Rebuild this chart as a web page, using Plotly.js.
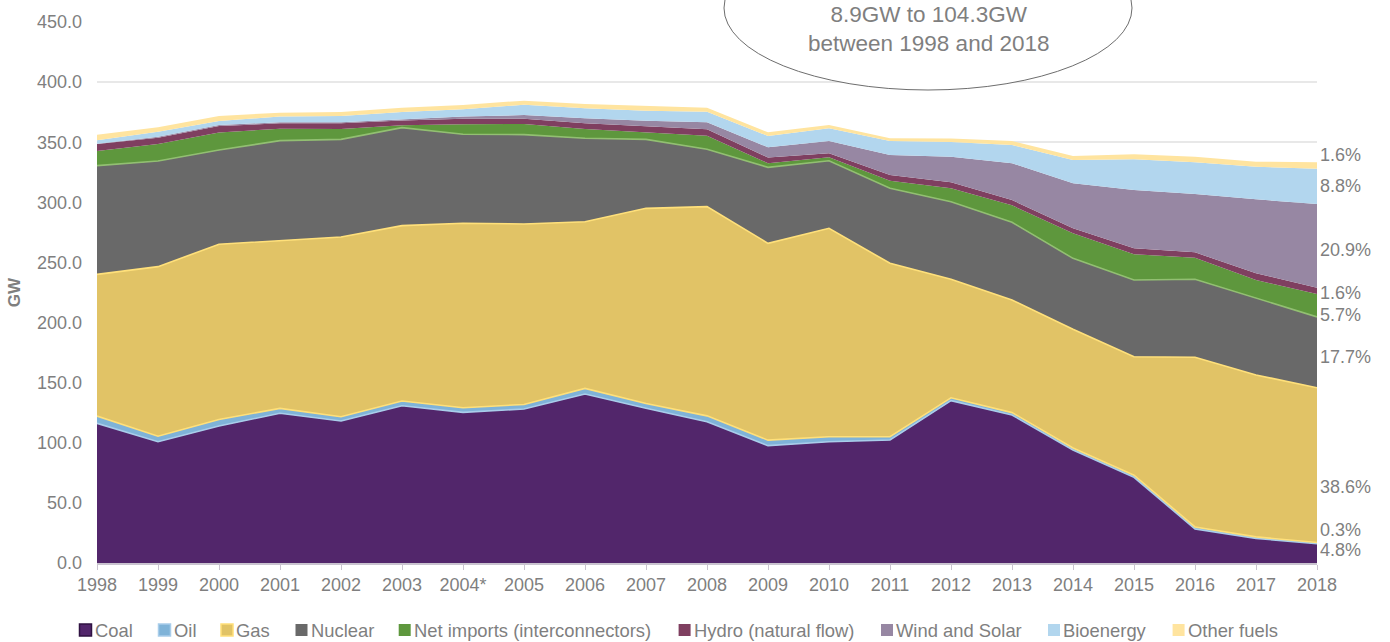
<!DOCTYPE html>
<html>
<head>
<meta charset="utf-8">
<script src="https://cdn.plot.ly/plotly-3.0.1.min.js"></script>
<style>
  html, body { margin: 0; padding: 0; background: #ffffff; }
  #chart { width: 1390px; height: 642px; }
</style>
</head>
<body>
<div id="chart"></div>
<script>
// GW by source
var years = ['1998','1999','2000','2001','2002','2003','2004*','2005','2006','2007','2008',
             '2009','2010','2011','2012','2013','2014','2015','2016','2017','2018'];

var coal       = [116.2, 100.9, 114.0, 124.5, 118.1, 130.8, 125.3, 128.1, 140.6, 128.7, 117.5, 97.6, 100.9, 102.3, 135.0, 123.1, 94.0, 71.3, 28.3, 20.5, 16.0];
var oil        = [6.0, 4.6, 5.4, 4.1, 3.5, 3.9, 3.8, 3.8, 4.6, 4.0, 4.9, 4.6, 4.1, 2.7, 2.4, 2.0, 1.7, 1.7, 1.7, 1.2, 1.0];
var gas        = [117.9, 141.0, 145.7, 139.5, 149.6, 145.9, 153.5, 150.1, 138.7, 162.3, 174.0, 163.7, 173.4, 144.3, 98.6, 93.7, 98.8, 98.6, 141.1, 134.7, 128.7];
var nuclear    = [90.4, 87.9, 78.4, 83.2, 81.2, 81.5, 74.0, 74.3, 69.4, 57.4, 47.7, 63.2, 56.2, 62.4, 64.5, 64.6, 58.9, 63.8, 64.9, 63.8, 59.0];
var netImports = [12.2, 14.1, 14.5, 10.0, 8.6, 2.0, 8.3, 8.9, 7.7, 5.5, 11.3, 3.4, 2.9, 6.3, 11.2, 14.1, 20.8, 21.4, 18.0, 15.2, 19.0];
var hydro      = [5.8, 5.3, 5.5, 4.4, 4.7, 3.9, 4.7, 4.4, 4.7, 5.0, 5.3, 4.7, 3.3, 4.7, 5.0, 4.4, 4.2, 5.0, 4.4, 5.6, 5.3];
var windSolar  = [0.3, 0.8, 0.8, 0.9, 0.9, 1.1, 1.7, 3.0, 4.2, 5.0, 5.9, 8.6, 10.2, 16.7, 21.3, 30.6, 37.4, 48.5, 48.5, 61.5, 69.7];
var bioenergy  = [2.8, 4.2, 3.4, 4.7, 5.2, 6.0, 6.1, 8.6, 8.3, 8.3, 8.8, 9.4, 10.6, 11.6, 12.2, 15.2, 19.4, 25.5, 26.4, 27.1, 29.3];
var otherFuels = [4.7, 3.6, 4.1, 3.3, 3.3, 3.6, 3.6, 3.4, 3.6, 3.9, 3.3, 3.0, 2.7, 2.3, 2.8, 3.3, 3.3, 4.2, 4.7, 4.2, 5.3];

// 2018 share labels on the right, and the GW level they sit at
var shareText = ['1.6%', '8.8%', '20.9%', '1.6%', '5.7%', '17.7%', '38.6%', '0.3%', '4.8%'];
var shareAt   = [339.4, 313.6, 260.4, 224.6, 206.3, 171.4, 63.2, 27.5, 10.8];

var names  = ['Coal', 'Oil', 'Gas', 'Nuclear', 'Net imports (interconnectors)',
              'Hydro (natural flow)', 'Wind and Solar', 'Bioenergy', 'Other fuels'];
var series = [coal, oil, gas, nuclear, netImports, hydro, windSolar, bioenergy, otherFuels];
var fills  = ['#52266B', '#7FB3D8', '#E1C366', '#696969', '#5E973D',
              '#7F3F60', '#9787A3', '#B2D6EE', '#FFE49F'];
// edge drawn on top of each layer (the next layer's border in the original)
var edges  = ['#A9CDEA', '#FFE07A', '#FFE07A', '#92BF72', null, null, null, null, null];

var grey = '#7f7f7f';
var font = 'Liberation Sans, Arial, sans-serif';

var traces = series.map(function (vals, i) {
    return {
        type: 'scatter',
        mode: 'lines',
        name: names[i],
        x: years,
        y: vals,
        stackgroup: 'one',
        fillcolor: fills[i],
        line: { color: edges[i] || fills[i], width: edges[i] ? 1.6 : 0 },
        hoverinfo: 'skip',
        showlegend: false
    };
});

// plot area in pixels: left 97, right 1317, top 22, bottom 563
function px(xp) { return (xp - 97) / 1220; }
function py(yp) { return (563 - yp) / 541; }

var shapes = [{
    type: 'circle', xref: 'paper', yref: 'paper',
    x0: px(724), x1: px(1132), y0: py(90), y1: py(-74),
    line: { color: '#6d6d6d', width: 1 }, fillcolor: '#ffffff', layer: 'above'
}];

var annotations = [{
    xref: 'paper', yref: 'paper', x: px(928), y: py(29),
    text: '8.9GW to 104.3GW<br>between 1998 and 2018',
    showarrow: false, xanchor: 'center', yanchor: 'middle',
    font: { family: font, size: 22.5, color: grey }
}];

shareText.forEach(function (t, i) {
    annotations.push({
        xref: 'x', yref: 'y', x: years.length - 1, y: shareAt[i],
        text: t, showarrow: false, xanchor: 'left', yanchor: 'middle', xshift: 1,
        font: { family: font, size: 18, color: grey }
    });
});

// legend drawn by hand to get Excel-style small squares
var legendX = [79.5, 158.5, 221, 295.5, 398.7, 678.6, 881, 1048, 1172.6];
var legendBorder = ['#2f1242', '#a9cdea', '#ffe07a', null, null, null, null, null, null];
names.forEach(function (n, i) {
    shapes.push({
        type: 'rect', xref: 'paper', yref: 'paper',
        x0: px(legendX[i]), x1: px(legendX[i] + 12), y0: py(636), y1: py(624),
        fillcolor: fills[i],
        line: { color: legendBorder[i] || fills[i], width: legendBorder[i] ? 1.5 : 0 }
    });
    annotations.push({
        xref: 'paper', yref: 'paper', x: px(legendX[i] + 13), y: py(630),
        text: n, showarrow: false, xanchor: 'left', yanchor: 'middle',
        font: { family: font, size: 18.4, color: grey }
    });
});

var layout = {
    width: 1390,
    height: 642,
    margin: { l: 97, r: 73, t: 22, b: 79 },
    paper_bgcolor: '#ffffff',
    plot_bgcolor: '#ffffff',
    font: { family: font, size: 18, color: grey },
    showlegend: false,
    xaxis: {
        type: 'category',
        range: [0, years.length - 1],
        showgrid: false,
        showline: true,
        linecolor: '#c9c3cf',
        linewidth: 1.5,
        ticks: 'outside',
        ticklen: 5,
        tickcolor: '#c9c3cf',
        tickfont: { family: font, size: 18, color: grey }
    },
    yaxis: {
        range: [0, 450],
        dtick: 50,
        tickformat: '.1f',
        showgrid: true,
        gridcolor: '#e8e8e8',
        gridwidth: 1.5,
        zeroline: false,
        showline: false,
        ticklabelstandoff: 14,
        tickfont: { family: font, size: 18, color: grey },
        title: { text: '<b>GW</b>', standoff: 12, font: { family: font, size: 17, color: grey } }
    },
    shapes: shapes,
    annotations: annotations
};

Plotly.newPlot('chart', traces, layout, { displayModeBar: false, staticPlot: true });
</script>
</body>
</html>
